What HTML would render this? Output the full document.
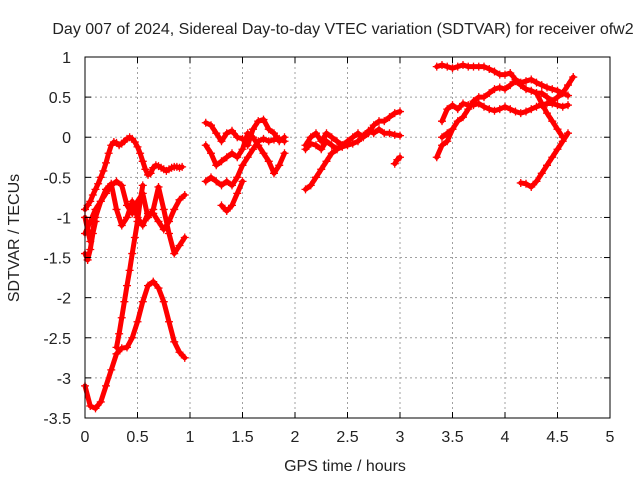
<!DOCTYPE html>
<html><head><meta charset="utf-8"><style>
body{margin:0;background:#fff;}
svg text{font-family:"Liberation Sans",sans-serif;font-size:16px;fill:#222;}
</style></head><body>
<svg id="chart" width="640" height="480" viewBox="0 0 640 480">
<rect width="640" height="480" fill="#fff"/>
<g id="grid"></g><g id="marks"></g><g id="axes"></g>
<text x="343" y="34" text-anchor="middle">Day 007 of 2024, Sidereal Day-to-day VTEC variation (SDTVAR) for receiver ofw2</text>
<text x="345" y="471" text-anchor="middle">GPS time / hours</text>
<text x="19" y="238" text-anchor="middle" transform="rotate(-90 19 238)">SDTVAR / TECUs</text>
</svg>
<script>
const xTicks=[0,0.5,1,1.5,2,2.5,3,3.5,4,4.5,5];
const xTickLabels=["0","0.5","1","1.5","2","2.5","3","3.5","4","4.5","5"];
const yTicks=[1,0.5,0,-0.5,-1,-1.5,-2,-2.5,-3,-3.5];
const yTickLabels=["1","0.5","0","-0.5","-1","-1.5","-2","-2.5","-3","-3.5"];
const trackStarts=[0,0,0,0,0,0.3,1.15,1.15,1.15,1.3,2.1,2.1,2.1,2.95,3.35,3.4,3.4,3.35,4.15,4.3];
const trackSteps=[0.025,0.05,0.05,0.025,0.05,0.025,0.05,0.05,0.05,0.05,0.05,0.05,0.05,0.025,0.05,0.05,0.05,0.05,0.05,0.05];
const track0=[-0.9,-0.85,-0.8,-0.72,-0.65,-0.58,-0.5,-0.42,-0.32,-0.2,-0.1,-0.06,-0.07,-0.1,-0.08,-0.05,-0.02,0.0,-0.02,-0.06,-0.12,-0.2,-0.3,-0.4,-0.47,-0.45,-0.38,-0.35,-0.36,-0.38,-0.4,-0.42,-0.4,-0.38,-0.37,-0.37,-0.38,-0.37];
const track1=[-1.2,-1.05,-0.9,-0.8,-0.7,-0.6,-0.55,-0.6,-0.85,-0.95,-0.8,-0.7,-1.0,-0.9,-0.62,-0.9,-1.2,-1.45,-1.35,-1.25];
const track2=[-1.0,-1.3,-1.0,-0.8,-0.65,-0.58,-0.9,-1.1,-1.0,-0.8,-1.0,-1.1,-0.95,-0.95,-1.05,-1.15,-1.05,-0.9,-0.78,-0.72];
const track3=[-1.45,-1.53,-1.4,-1.2,-1.05];
const track4=[-3.1,-3.35,-3.38,-3.3,-3.1,-2.9,-2.7,-2.63,-2.62,-2.5,-2.3,-2.05,-1.85,-1.8,-1.88,-2.05,-2.3,-2.55,-2.68,-2.75];
const track5=[-2.62,-2.45,-2.25,-2.05,-1.85,-1.66,-1.45,-1.25,-1.05,-0.8,-0.6];
const track6=[0.18,0.15,0.05,-0.05,0.05,0.08,0.0,-0.02,-0.1,0.1,0.2,0.22,0.1,0.05,-0.05,0.0];
const track7=[-0.1,-0.2,-0.35,-0.3,-0.25,-0.2,-0.25,-0.15,0.05,0.0,-0.1,-0.2,-0.3,-0.45,-0.35,-0.2];
const track8=[-0.55,-0.5,-0.55,-0.6,-0.55,-0.6,-0.5,-0.35,-0.25,-0.15,-0.05,-0.02,-0.05,-0.03,-0.02,-0.05];
const track9=[-0.85,-0.92,-0.85,-0.7,-0.55];
const track10=[-0.1,0.0,0.05,-0.05,0.05,0.0,-0.05,-0.1,-0.05,0.0,0.05,0.0,0.05,0.15,0.2,0.2,0.25,0.3,0.32];
const track11=[-0.15,-0.08,-0.1,-0.15,-0.05,-0.1,-0.15,-0.12,-0.1,-0.08,-0.05,0.02,0.08,0.05,0.1,0.05,0.05,0.03,0.02];
const track12=[-0.65,-0.6,-0.5,-0.4,-0.3,-0.2,-0.15,-0.1];
const track13=[-0.33,-0.28,-0.25];
const track14=[0.88,0.9,0.88,0.86,0.88,0.9,0.88,0.88,0.88,0.88,0.85,0.82,0.78,0.78,0.8,0.72,0.68,0.7,0.72,0.68,0.65,0.62,0.6,0.58,0.55,0.52];
const track15=[0.0,0.05,0.1,0.2,0.25,0.35,0.45,0.5,0.5,0.55,0.6,0.62,0.6,0.65,0.7,0.65,0.6,0.58,0.55,0.55,0.5,0.45,0.5,0.55,0.65,0.75];
const track16=[0.2,0.35,0.4,0.35,0.42,0.4,0.4,0.42,0.38,0.35,0.33,0.35,0.38,0.35,0.32,0.3,0.32,0.35,0.38,0.4,0.42,0.42,0.4,0.38,0.4];
const track17=[-0.25,-0.1,-0.05,0.1];
const track18=[-0.57,-0.58,-0.62,-0.55,-0.45,-0.35,-0.25,-0.15,-0.05,0.05];
const track19=[0.55,0.42,0.3,0.2,0.1,0.0];
const tracks=[track0,track1,track2,track3,track4,track5,track6,track7,track8,track9,track10,track11,track12,track13,track14,track15,track16,track17,track18,track19];

const L=85,R=610,T=57,B=418;
const X=t=>L+(t-0)/(5-0)*(R-L);
const Y=v=>B-(v-(-3.5))/(1-(-3.5))*(B-T);
const NS='http://www.w3.org/2000/svg';
function mk(tag,attrs,parent){const e=document.createElementNS(NS,tag);for(const k in attrs)e.setAttribute(k,attrs[k]);parent.appendChild(e);return e;}
const grid=document.getElementById('grid'),axes=document.getElementById('axes'),marks=document.getElementById('marks');
xTicks.forEach((t,i)=>{
  const x=X(t);
  if(i>0&&i<xTicks.length-1){const g=mk('line',{x1:x,x2:x,y1:T,y2:B,stroke:'#a0a0a0','stroke-dasharray':'2,3'},grid);
  
  }
  mk('line',{x1:x,x2:x,y1:B,y2:B-6,stroke:'#000'},axes);
  mk('line',{x1:x,x2:x,y1:T,y2:T+6,stroke:'#000'},axes);
  const tx=mk('text',{x:x,y:B+24,'text-anchor':'middle'},axes);tx.textContent=xTickLabels[i];
  
  
});
yTicks.forEach((v,i)=>{
  const y=Y(v);
  if(i>0&&i<yTicks.length-1){const g=mk('line',{x1:L,x2:R,y1:y,y2:y,stroke:'#a0a0a0','stroke-dasharray':'2,3'},grid);
  
  }
  mk('line',{x1:L,x2:L+6,y1:y,y2:y,stroke:'#000'},axes);
  mk('line',{x1:R,x2:R-6,y1:y,y2:y,stroke:'#000'},axes);
  const tx=mk('text',{x:L-14,y:y+6,'text-anchor':'end'},axes);tx.textContent=yTickLabels[i];
  
  
});
const frame=mk('rect',{x:L,y:T,width:R-L,height:B-T,fill:'none',stroke:'#000'},axes);


tracks.forEach((vals,k)=>{
  const g=mk('g',{},marks);
  
  
  let d='',pl='';
  vals.forEach((v,i)=>{const x=X(trackStarts[k]+i*trackSteps[k]),y=Y(v);
    pl+=(i?'L':'M')+x+','+y;
    d+=`M${x-4},${y}h8M${x},${y-4}v8`;});
  mk('path',{d:pl,stroke:'#ff0000','stroke-width':5,fill:'none','stroke-linejoin':'round','stroke-linecap':'round'},g);
  mk('path',{d:d,stroke:'#ff0000','stroke-width':1.3,fill:'none'},g);
});
</script>
</body></html>
